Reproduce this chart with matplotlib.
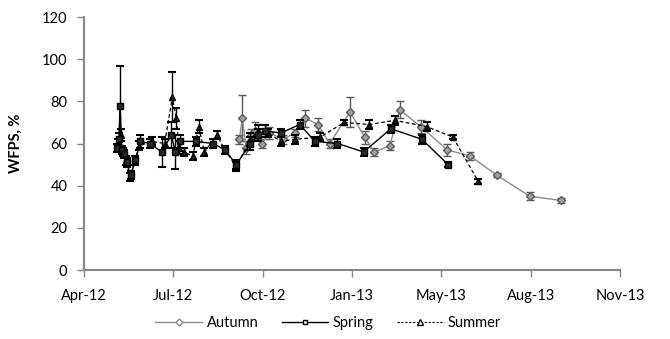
import matplotlib
matplotlib.use("Agg")
import matplotlib.pyplot as plt
import matplotlib.dates as mdates
import pandas as pd
from matplotlib.lines import Line2D

plt.rcParams['font.family'] = ['Lato', 'DejaVu Sans']

# Water-filled pore space (%) by sowing season, mean +/- SE
autumn_dates = ["2012-10-05", "2012-10-08", "2012-10-12", "2012-10-17", "2012-10-21",
                "2012-10-28", "2012-11-05", "2012-11-19", "2012-12-01", "2012-12-12",
                "2012-12-25", "2013-01-06", "2013-01-27", "2013-02-11", "2013-02-21",
                "2013-03-09", "2013-03-19", "2013-04-10", "2013-05-07", "2013-05-31",
                "2013-06-27", "2013-07-31", "2013-09-01"]
autumn_wfps = [62, 72, 58, 64, 66, 60, 65, 62, 65, 72, 69, 60, 75, 63, 56,
               59, 76, 68, 57, 54, 45, 35, 33]
autumn_err = [2, 11, 3, 3, 4, 2, 3, 2, 2, 4, 3, 2, 7, 3, 2, 2, 4, 3, 3, 2, 1, 2, 1]

spring_dates = ["2012-06-01", "2012-06-03", "2012-06-04", "2012-06-06", "2012-06-08",
                "2012-06-11", "2012-06-15", "2012-06-20", "2012-06-25", "2012-07-05",
                "2012-07-17", "2012-07-27", "2012-07-31", "2012-08-05", "2012-08-21",
                "2012-09-08", "2012-09-20", "2012-10-02", "2012-10-16", "2012-10-24",
                "2012-10-31", "2012-11-17", "2012-12-06", "2012-12-22", "2013-01-14",
                "2013-02-10", "2013-03-10", "2013-04-11", "2013-05-08"]
spring_wfps = [58, 62, 78, 57, 55, 51, 45, 52, 61, 60, 56, 64, 56, 61, 61,
               60, 57, 50, 60, 64, 66, 65, 69, 61, 60, 56, 67, 62, 50]
spring_err = [2, 3, 19, 2, 2, 2, 2, 2, 3, 2, 7, 6, 8, 3, 2, 2, 2, 2, 3, 3,
              3, 2, 2, 2, 2, 2, 2, 2, 1]

summer_dates = ["2012-06-02", "2012-06-05", "2012-06-07", "2012-06-10", "2012-06-14",
                "2012-06-24", "2012-07-07", "2012-07-20", "2012-07-28", "2012-08-01",
                "2012-08-04", "2012-08-09", "2012-08-18", "2012-08-24", "2012-08-30",
                "2012-09-12", "2012-09-20", "2012-10-02", "2012-10-16", "2012-10-24",
                "2012-11-03", "2012-11-17", "2012-12-01", "2012-12-27", "2013-01-21",
                "2013-02-16", "2013-03-14", "2013-04-16", "2013-05-13", "2013-06-08"]
summer_wfps = [60, 64, 56, 52, 44, 59, 61, 60, 82, 72, 58, 56, 54, 68, 56,
               64, 57, 49, 62, 66, 65, 61, 62, 63, 70, 69, 71, 68, 63, 42]
summer_err = [2, 3, 2, 2, 2, 2, 2, 2, 12, 5, 3, 2, 2, 3, 2, 2, 2, 2, 3, 3,
              2, 2, 2, 2, 1, 2, 2, 2, 1, 1]

tick_dates = pd.date_range("2012-04-28", periods=7, freq="92D")

fig = plt.figure(figsize=(6.7, 3.39), dpi=100)
ax = fig.add_axes([0.1254, 0.2035, 0.80, 0.7463])

axis_grey = "#868686"
autumn_col = "#8c8c8c"

ax.errorbar(pd.to_datetime(autumn_dates), autumn_wfps, yerr=autumn_err,
            color=autumn_col, lw=1.0, marker="D", ms=4.5, mfc="#a0a0a0", mec="#5a5a5a",
            mew=1.0, ecolor="#5a5a5a", elinewidth=1.0, capsize=3.2, capthick=1.5, zorder=3)
ax.errorbar(pd.to_datetime(summer_dates), summer_wfps, yerr=summer_err,
            color="black", lw=0.9, ls=(0, (3, 2)), marker="^", ms=5, mfc="#1a1a1a",
            mec="black", ecolor="black", elinewidth=1.0, capsize=3.2, capthick=1.5, zorder=4)
ax.errorbar(pd.to_datetime(spring_dates), spring_wfps, yerr=spring_err,
            color="black", lw=1.0, marker="s", ms=4.5, mfc="#2a2a2a", mec="black",
            ecolor="black", elinewidth=1.0, capsize=3.2, capthick=1.5, zorder=5)

ax.set_ylim(0, 120)
ax.set_yticks(range(0, 121, 20))
ax.set_xlim(tick_dates[0], tick_dates[-1])
ax.set_xticks(tick_dates)
ax.xaxis.set_major_formatter(mdates.DateFormatter("%b-%y"))

for s in ("top", "right"):
    ax.spines[s].set_visible(False)
for s in ("left", "bottom"):
    ax.spines[s].set_color(axis_grey)
    ax.spines[s].set_linewidth(1.5)
ax.tick_params(axis="both", colors=axis_grey, length=5, width=1, labelsize=10.5,
               labelcolor="black", direction="out")
ax.tick_params(axis="y", pad=7)
ax.tick_params(axis="x", pad=9)

ax.set_ylabel("WFPS, %", fontsize=10.5, fontweight="bold", labelpad=14)

handles = [
    Line2D([], [], color=autumn_col, lw=1.0, marker="D", ms=3.5, mfc="white", mec=autumn_col),
    Line2D([], [], color="black", lw=1.0, marker="s", ms=3.5, mfc="white", mec="black"),
    Line2D([], [], color="black", lw=0.8, ls=(0, (2, 1.5)), marker="^", ms=4, mfc="white", mec="black"),
]
fig.legend(handles, ["Autumn", "Spring", "Summer"], loc="center",
           bbox_to_anchor=(0.49, 0.048), ncol=3, frameon=False, fontsize=10.5,
           handlelength=3.2, columnspacing=1.6, handletextpad=0.3)

fig.savefig("out.png", dpi=100)
